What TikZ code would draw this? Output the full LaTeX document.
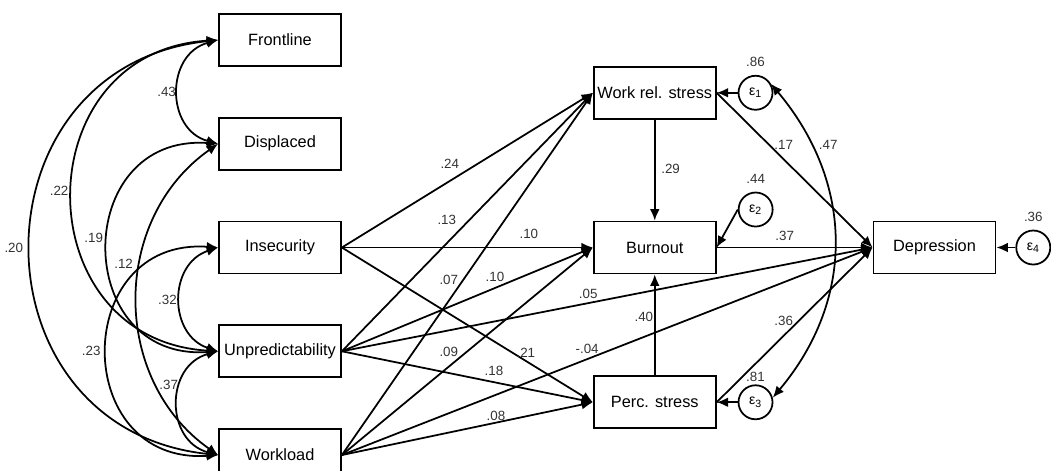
\documentclass[tikz,border=0pt]{standalone}
\usepackage{fontspec}
\setmainfont{Liberation Sans}
\usetikzlibrary{positioning,arrows.meta}

\begin{document}
\begin{tikzpicture}[
                node distance=1cm,
                obs/.style={rectangle,draw,line width=1pt,minimum width=2.44cm,minimum height=1.04cm,inner sep=1pt,font=\fontsize{9.3}{11}\selectfont},
                err/.style={circle,draw,line width=1pt,minimum size=0.68cm,inner sep=0pt,font=\fontsize{8}{9}\selectfont},
                lbl/.style={inner sep=1pt,font=\fontsize{7.6}{9}\selectfont,text=black!80},
                arr/.style={line width=1pt,-{Latex[length=6.5pt,width=5.5pt]}},
                covarr/.style={line width=1pt,{Latex[length=6.5pt,width=5.5pt]}-{Latex[length=6.5pt,width=5.5pt]}}
            ]
                \useasboundingbox (0,0) rectangle (21.02,-9.4);
                % exogenous
                \node[obs] (Fr) at (5.6,-0.8) {Frontline};
                \node[obs] (Di) [below=of Fr] {Displaced};
                \node[obs] (In) [below=of Di] {Insecurity};
                \node[obs] (Un) [below=of In] {Unpredictability};
                \node[obs] (Wo) [below=of Un] {Workload};
                % endogenous
                \node[obs] (Bu) [right=5.02cm of In] {Burnout};
                \node[obs] (Ws) [above=2.02cm of Bu] {Work rel. stress};
                \node[obs] (Ps) [below=2.02cm of Bu] {Perc. stress};
                \node[obs] (De) [right=3.12cm of Bu] {Depression};
                % errors
                \node[err] (e1) [right=0.42cm of Ws] {ε\textsubscript{1}};
                \node[err] (e2) at ([xshift=0.78cm,yshift=0.76cm]Bu.east) {ε\textsubscript{2}};
                \node[err] (e3) [right=0.42cm of Ps] {ε\textsubscript{3}};
                \node[err] (e4) [right=0.38cm of De] {ε\textsubscript{4}};
                \node[lbl] (v1) [above=3.5pt of e1] {.86};
                \node[lbl] (v2) [above=3.5pt of e2] {.44};
                \node[lbl] (v3) [above=0.4pt of e3] {.81};
                \node[lbl] (v4) [above=3.5pt of e4] {.36};
                % covariances
                \draw[covarr] (Fr.west) to[out=195,in=165,looseness=1.35] node[lbl,left] {.43} (Di.west);
                \draw[covarr] (Fr.west) to[out=183.5,in=176.5,looseness=1.6] node[lbl,pos=.49,left=1pt] {.22} (Un.west);
                \draw[covarr] (Fr.west) to[out=186,in=174,looseness=1.55] node[lbl,left=3pt] {.20} (Wo.west);
                \draw[covarr] (Di.west) to[out=176,in=184,looseness=1.82] node[lbl,pos=.47,left=1.5pt] {.19} (Un.west);
                \draw[covarr] (Di.west) to[out=215,in=145,looseness=1.08] node[lbl,pos=.4,left=3pt] {.12} (Wo.west);
                \draw[covarr] (In.west) to[out=198,in=162,looseness=1.3] node[lbl,left=0.7pt] {.32} (Un.west);
                \draw[covarr] (In.west) to[out=176,in=184,looseness=1.83] node[lbl,left=2.4pt] {.23} (Wo.west);
                \draw[covarr] (Un.west) to[out=195,in=165,looseness=1.36] node[lbl,pos=.36,left=0.4pt] {.37} (Wo.west);
                % paths
                \draw[arr] (In.east) -- node[lbl,pos=.43,yshift=10pt] {.24} (Ws.west);
                \draw[arr] (In.east) -- node[lbl,pos=.745,yshift=7.9pt] {.10} (Bu.west);
                \draw[arr] (In.east) -- node[lbl,pos=.733,yshift=4.8pt] {.21} (Ps.west);
                \draw[arr] (Un.east) -- node[lbl,pos=.418,yshift=13.2pt] {.13} (Ws.west);
                \draw[arr] (Un.east) -- node[lbl,pos=.61,yshift=6.1pt] {.10} (Bu.west);
                \draw[arr] (Un.east) -- node[lbl,pos=.464,yshift=5.5pt] {.05} (De.west);
                \draw[arr] (Un.east) -- node[lbl,pos=.606,yshift=6.4pt] {.18} (Ps.west);
                \draw[arr] (Wo.east) -- node[lbl,pos=.426,yshift=12.1pt] {.07} (Ws.west);
                \draw[arr] (Wo.east) -- node[lbl,pos=.426,yshift=8.2pt] {.09} (Bu.west);
                \draw[arr] (Wo.east) -- node[lbl,pos=.462,yshift=5.8pt] {-.04} (De.west);
                \draw[arr] (Wo.east) -- node[lbl,pos=.614,yshift=3.8pt] {.08} (Ps.west);
                \draw[arr] (Ws) -- node[lbl,pos=.49,xshift=9pt] {.29} (Bu);
                \draw[arr] (Ps) -- node[lbl,pos=.58,xshift=-6.2pt] {.40} (Bu);
                \draw[arr] (Ws.east) -- node[lbl,pos=.43,yshift=8.3pt] {.17} (De.west);
                \draw[arr] (Bu.east) -- node[lbl,pos=.436,yshift=6.8pt] {.37} (De.west);
                \draw[arr] (Ps.east) -- node[lbl,pos=.43,yshift=8.3pt] {.36} (De.west);
                % errors to variables
                \draw[arr] (e1) -- (Ws.east);
                \draw[arr] (e2.west) -- (Bu.east);
                \draw[arr] (e3) -- (Ps.east);
                \draw[arr] (e4) -- (De.east);
                \draw[covarr] (e1.30) to[out=-50,in=50,looseness=1.05] node[lbl,pos=.2,right=3pt] {.47} (e3.15);
            \end{tikzpicture}
\end{document}
